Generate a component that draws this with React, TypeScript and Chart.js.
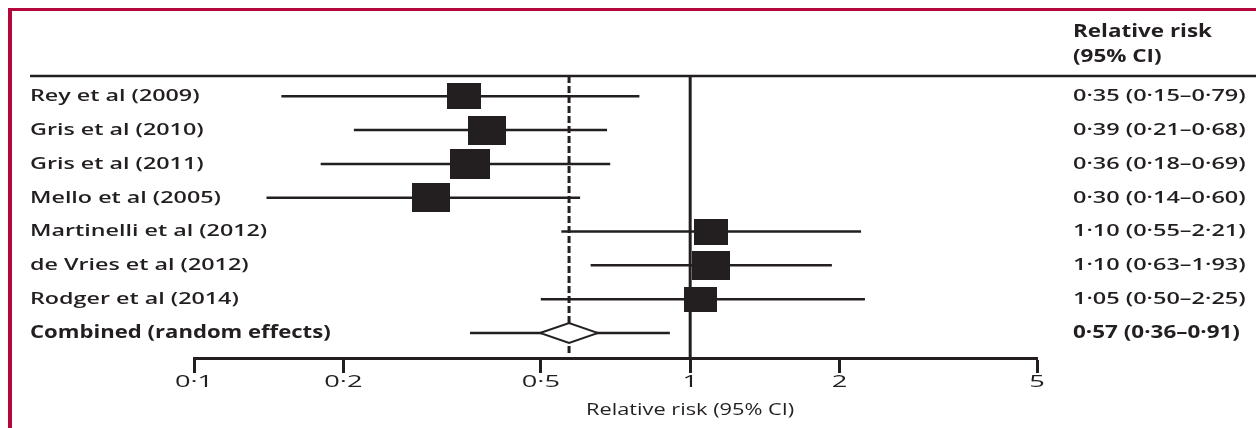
import React, { useEffect, useRef } from "react";
import { Chart, registerables } from "chart.js";

Chart.register(...registerables);

// ---------- data ----------
const studies = [
  "Rey et al (2009)",
  "Gris et al (2010)",
  "Gris et al (2011)",
  "Mello et al (2005)",
  "Martinelli et al (2012)",
  "de Vries et al (2012)",
  "Rodger et al (2014)",
];
const estimates = [0.35, 0.39, 0.36, 0.3, 1.1, 1.1, 1.05];
const lowerCI = [0.15, 0.21, 0.18, 0.14, 0.55, 0.63, 0.5];
const upperCI = [0.79, 0.68, 0.69, 0.6, 2.21, 1.93, 2.25];
const weights = [12.4, 15.7, 17.0, 15.7, 12.3, 15.3, 11.6];
const ciLabels = [
  "0·35 (0·15–0·79)",
  "0·39 (0·21–0·68)",
  "0·36 (0·18–0·69)",
  "0·30 (0·14–0·60)",
  "1·10 (0·55–2·21)",
  "1·10 (0·63–1·93)",
  "1·05 (0·50–2·25)",
];
const combinedLabel = "Combined (random effects)";
const combinedEstimate = 0.57;
const combinedLower = 0.36;
const combinedUpper = 0.91;
const combinedCILabel = "0·57 (0·36–0·91)";
const tickValues = [0.1, 0.2, 0.5, 1, 2, 5];
const tickLabels = ["0·1", "0·2", "0·5", "1", "2", "5"];
const headerLines = ["Relative risk", "(95% CI)"];
const axisTitle = "Relative risk (95% CI)";

// ---------- style ----------
const INK = "#231f20";
const RED = "#b5083a";
const FONT = '"Open Sans", "Liberation Sans", sans-serif';
const LABEL_X = 30;
const VALUE_X = 1073;

function stretchText(
  ctx: CanvasRenderingContext2D,
  text: string,
  x: number,
  y: number,
  font: string,
  sx: number,
  align: "left" | "center" = "left"
) {
  ctx.save();
  ctx.font = font;
  ctx.fillStyle = INK;
  ctx.textBaseline = "middle";
  ctx.textAlign = "left";
  const w = ctx.measureText(text).width * sx;
  const x0 = align === "center" ? x - w / 2 : x;
  ctx.translate(x0, y);
  ctx.scale(sx, 1);
  ctx.fillText(text, 0, 0);
  ctx.restore();
}

function makeBox(weight: number): HTMLCanvasElement {
  const area = weight * 71;
  const aspect = 1.3;
  const w = Math.round(Math.sqrt(area * aspect));
  const h = Math.round(Math.sqrt(area / aspect));
  const c = document.createElement("canvas");
  c.width = w;
  c.height = h;
  const g = c.getContext("2d")!;
  g.fillStyle = INK;
  g.fillRect(0, 0, w, h);
  return c;
}

function makeDiamond(): HTMLCanvasElement {
  const w = 62;
  const h = 24;
  const c = document.createElement("canvas");
  c.width = w;
  c.height = h;
  const g = c.getContext("2d")!;
  g.beginPath();
  g.moveTo(2, h / 2);
  g.lineTo(w / 2, 2);
  g.lineTo(w - 2, h / 2);
  g.lineTo(w / 2, h - 2);
  g.closePath();
  g.fillStyle = "#ffffff";
  g.fill();
  g.strokeStyle = INK;
  g.lineWidth = 2;
  g.stroke();
  return c;
}

const forestPlugin = {
  id: "forestDecor",
  beforeDatasetsDraw(chart: any) {
    const { ctx, chartArea } = chart;
    const xs = chart.scales.x;
    ctx.save();
    ctx.strokeStyle = INK;
    // top rule
    ctx.lineWidth = 2.5;
    ctx.beginPath();
    ctx.moveTo(LABEL_X, chartArea.top);
    ctx.lineTo(chart.width, chartArea.top);
    ctx.stroke();
    // line of no effect
    const x1 = xs.getPixelForValue(1);
    ctx.lineWidth = 3;
    ctx.beginPath();
    ctx.moveTo(x1, chartArea.top);
    ctx.lineTo(x1, chartArea.bottom);
    ctx.stroke();
    // combined estimate dashed line
    const xc = xs.getPixelForValue(combinedEstimate);
    ctx.setLineDash([7, 3]);
    ctx.beginPath();
    ctx.moveTo(xc, chartArea.top);
    ctx.lineTo(xc, chartArea.bottom - 5);
    ctx.stroke();
    ctx.restore();
  },
  afterDraw(chart: any) {
    const { ctx, chartArea } = chart;
    const xs = chart.scales.x;
    const ys = chart.scales.y;
    const labelFont = `600 17px ${FONT}`;
    const boldFont = `700 17px ${FONT}`;
    // header
    stretchText(ctx, headerLines[0], VALUE_X, chartArea.top - 44, boldFont, 1.32);
    stretchText(ctx, headerLines[1], VALUE_X, chartArea.top - 19, boldFont, 1.32);
    // rows
    studies.forEach((s, i) => {
      const y = ys.getPixelForValue(i);
      stretchText(ctx, s, LABEL_X, y, labelFont, 1.37);
      stretchText(ctx, ciLabels[i], VALUE_X, y, labelFont, 1.38);
    });
    const yc = ys.getPixelForValue(studies.length);
    stretchText(ctx, combinedLabel, LABEL_X, yc, boldFont, 1.3);
    stretchText(ctx, combinedCILabel, VALUE_X, yc, boldFont, 1.32);
    // tick labels from the x scale's ticks
    xs.ticks.forEach((t: any, i: number) => {
      const px = xs.getPixelForTick(i);
      const idx = tickValues.indexOf(t.value);
      const txt = idx >= 0 ? tickLabels[idx] : String(t.value);
      stretchText(ctx, txt, px, xs.top + 24, `400 17px ${FONT}`, 1.6, "center");
    });
    // axis title
    stretchText(ctx, axisTitle, xs.getPixelForValue(1), xs.top + 52, `400 16px ${FONT}`, 1.36, "center");
  },
};

export default function App() {
  const ref = useRef<HTMLCanvasElement | null>(null);

  useEffect(() => {
    const canvas = ref.current;
    if (!canvas) return;
    const boxes = weights.map(makeBox);
    const diamond = makeDiamond();

    const whiskers = [
      ...studies.map((s, i) => ({
        label: s,
        data: [
          { x: lowerCI[i], y: i },
          { x: upperCI[i], y: i },
        ],
      })),
      {
        label: combinedLabel,
        data: [
          { x: combinedLower, y: studies.length },
          { x: combinedUpper, y: studies.length },
        ],
      },
    ].map((d) => ({
      ...d,
      showLine: true,
      borderColor: INK,
      borderWidth: 2.5,
      pointRadius: 0,
      order: 2,
    }));

    const chart = new Chart(canvas, {
      type: "scatter",
      data: {
        datasets: [
          {
            label: "Study estimates",
            data: estimates.map((v, i) => ({ x: v, y: i })),
            pointStyle: boxes as any,
            pointRadius: 10,
            order: 0,
          } as any,
          {
            label: "Combined estimate",
            data: [{ x: combinedEstimate, y: studies.length }],
            pointStyle: diamond as any,
            pointRadius: 10,
            order: 0,
          } as any,
          ...whiskers,
        ],
      },
      options: {
        animation: false,
        responsive: false,
        devicePixelRatio: 1,
        events: [],
        layout: { padding: { left: 194, right: 219, top: 76, bottom: 0 } },
        plugins: {
          legend: { display: false },
          tooltip: { enabled: false },
        },
        scales: {
          x: {
            type: "logarithmic",
            position: "bottom",
            min: 0.1,
            max: 5,
            afterBuildTicks: (s: any) => {
              s.ticks = tickValues.map((v) => ({ value: v }));
            },
            afterFit: (s: any) => {
              s.height = 70;
            },
            ticks: { display: false },
            grid: {
              drawOnChartArea: false,
              drawTicks: true,
              tickLength: 15,
              tickWidth: 3,
              tickColor: INK,
            },
            border: { display: true, color: INK, width: 3 },
          },
          y: {
            type: "linear",
            display: false,
            reverse: true,
            min: -0.6,
            max: 7.74,
          },
        },
      } as any,
      plugins: [forestPlugin],
    });
    return () => chart.destroy();
  }, []);

  return (
    <div style={{ position: "fixed", left: 0, top: 0, width: 1256, height: 428, background: "#fff" }}>
      <div
        style={{
          position: "absolute",
          left: 8,
          top: 8,
          right: 0,
          bottom: 0,
          borderLeft: `4px solid ${RED}`,
          borderTop: `3px solid ${RED}`,
        }}
      />
      <canvas
        ref={ref}
        width={1256}
        height={428}
        style={{ position: "absolute", left: 0, top: 0, width: 1256, height: 428 }}
      />
    </div>
  );
}
